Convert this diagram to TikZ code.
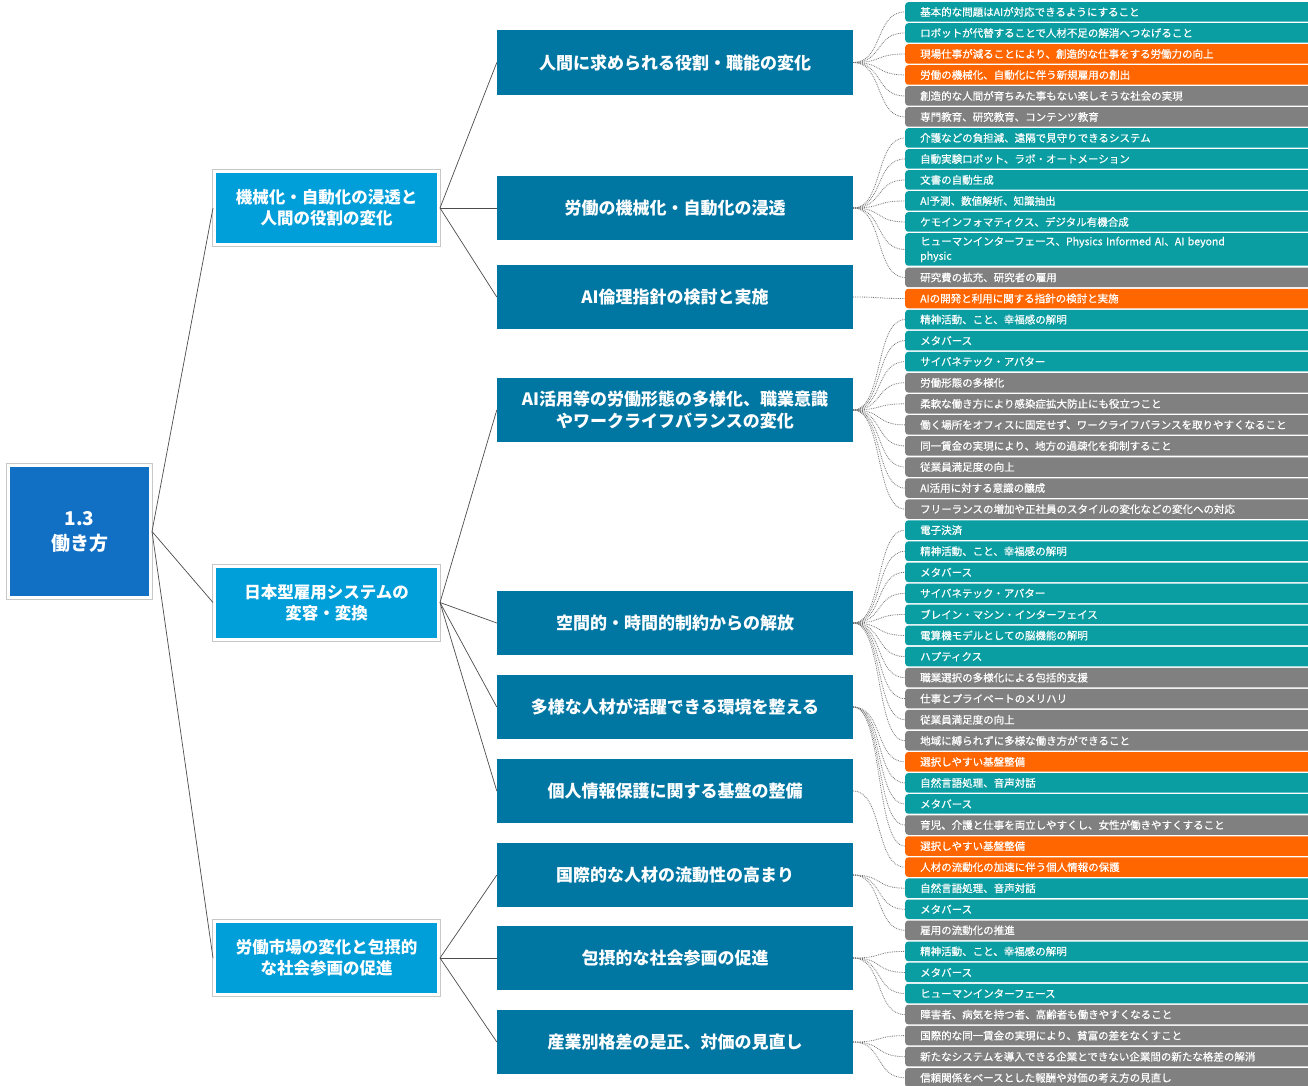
\documentclass[tikz,border=0pt]{standalone}
\usepackage{fontspec}
\setmainfont{Noto Sans CJK JP}
\newfontfamily\leaffont[FakeBold=0.6]{Noto Sans CJK JP}
\definecolor{rootc}{RGB}{18,112,196}
\definecolor{lonec}{RGB}{0,159,218}
\definecolor{midc}{RGB}{0,119,163}
\definecolor{tealc}{RGB}{10,158,163}
\definecolor{orangec}{RGB}{255,102,0}
\definecolor{grayc}{RGB}{128,128,128}
\newcommand\leafnode[4][]{%
  \pgfmathsetmacro\leaftop{#2<13 ? 2+21*(#2-1) : 267.5+21.06*(#2-13)}%
  \node[leaf, fill=#3, #1] (l#2) at (905,\leaftop) {#4};}
\begin{document}
\begin{tikzpicture}[x=1pt,y=-1pt,
  framed/.style={draw=white, line width=3pt, preaction={draw=black!22, line width=5pt},
    text=white, align=center, inner sep=0pt},
  rootbox/.style={framed, fill=rootc, minimum width=142pt, minimum height=132pt,
    font=\fontsize{19}{25}\selectfont\bfseries},
  lonebox/.style={framed, fill=lonec, minimum width=224pt, minimum height=73pt,
    font=\fontsize{16.5}{21}\selectfont\bfseries},
  midbox/.style={fill=midc, text=white, align=center, inner sep=0pt,
    minimum width=356pt, minimum height=64.5pt,
    font=\fontsize{17}{22}\selectfont\bfseries},
  leaf/.style={anchor=north west, text=white, font=\leaffont\fontsize{10.5}{13}\selectfont,
    text width=395pt, inner xsep=15pt, inner ysep=0pt, minimum height=19.5pt,
    rounded corners=3pt, align=left},
  trunk/.style={draw=black!70, line width=0.7pt},
  leafline/.style={densely dotted, draw=black!55, line width=0.8pt}]
\useasboundingbox[fill=white] (0,0) rectangle (1308,1085);

% root and first level
\node[rootbox] (root) at (79.5,531.5) {1.3\\働き方};
\node[lonebox] (a) at (326.5,208) {機械化・自動化の浸透と\\人間の役割の変化};
\node[lonebox] (b) at (326.5,602.5) {日本型雇用システムの\\変容・変換};
\node[lonebox] (c) at (326.5,958) {労働市場の変化と包摂的\\な社会参画の促進};

% second level
\node[midbox] (m1) at (675,62.5) {人間に求められる役割・職能の変化};
\node[midbox] (m2) at (675,208) {労働の機械化・自動化の浸透};
\node[midbox] (m3) at (675,297) {AI倫理指針の検討と実施};
\node[midbox] (m4) at (675,410) {AI活用等の労働形態の多様化、職業意識\\やワークライフバランスの変化};
\node[midbox] (m5) at (675,623) {空間的・時間的制約からの解放};
\node[midbox] (m6) at (675,707) {多様な人材が活躍できる環境を整える};
\node[midbox] (m7) at (675,791) {個人情報保護に関する基盤の整備};
\node[midbox] (m8) at (675,875) {国際的な人材の流動性の高まり};
\node[midbox] (m9) at (675,958) {包摂的な社会参画の促進};
\node[midbox] (m10) at (675,1042) {産業別格差の是正、対価の見直し};

% leaves
\leafnode{1}{tealc}{基本的な問題はAIが対応できるようにすること}
\leafnode{2}{tealc}{ロボットが代替することで人材不足の解消へつなげること}
\leafnode{3}{orangec}{現場仕事が減ることにより、創造的な仕事をする労働力の向上}
\leafnode{4}{orangec}{労働の機械化、自動化に伴う新規雇用の創出}
\leafnode{5}{grayc}{創造的な人間が育ちみた事もない楽しそうな社会の実現}
\leafnode{6}{grayc}{専門教育、研究教育、コンテンツ教育}
\leafnode{7}{tealc}{介護などの負担減、遠隔で見守りできるシステム}
\leafnode{8}{tealc}{自動実験ロボット、ラボ・オートメーション}
\leafnode{9}{tealc}{文書の自動生成}
\leafnode{10}{tealc}{AI予測、数値解析、知識抽出}
\leafnode{11}{tealc}{ケモインフォマティクス、デジタル有機合成}
\leafnode[minimum height=32.5pt, font=\leaffont\fontsize{10.5}{14.5}\selectfont]{12}{tealc}{ヒューマンインターフェース、Physics Informed AI、AI beyond\\physic}
\leafnode{13}{grayc}{研究費の拡充、研究者の雇用}
\leafnode{14}{orangec}{AIの開発と利用に関する指針の検討と実施}
\leafnode{15}{tealc}{精神活動、こと、幸福感の解明}
\leafnode{16}{tealc}{メタバース}
\leafnode{17}{tealc}{サイバネテック・アバター}
\leafnode{18}{grayc}{労働形態の多様化}
\leafnode{19}{grayc}{柔軟な働き方により感染症拡大防止にも役立つこと}
\leafnode{20}{grayc}{働く場所をオフィスに固定せず、ワークライフバランスを取りやすくなること}
\leafnode{21}{grayc}{同一賃金の実現により、地方の過疎化を抑制すること}
\leafnode{22}{grayc}{従業員満足度の向上}
\leafnode{23}{grayc}{AI活用に対する意識の醸成}
\leafnode{24}{grayc}{フリーランスの増加や正社員のスタイルの変化などの変化への対応}
\leafnode{25}{tealc}{電子決済}
\leafnode{26}{tealc}{精神活動、こと、幸福感の解明}
\leafnode{27}{tealc}{メタバース}
\leafnode{28}{tealc}{サイバネテック・アバター}
\leafnode{29}{tealc}{ブレイン・マシン・インターフェイス}
\leafnode{30}{tealc}{電算機モデルとしての脳機能の解明}
\leafnode{31}{tealc}{ハプティクス}
\leafnode{32}{grayc}{職業選択の多様化による包括的支援}
\leafnode{33}{grayc}{仕事とプライベートのメリハリ}
\leafnode{34}{grayc}{従業員満足度の向上}
\leafnode{35}{grayc}{地域に縛られずに多様な働き方ができること}
\leafnode{36}{orangec}{選択しやすい基盤整備}
\leafnode{37}{tealc}{自然言語処理、音声対話}
\leafnode{38}{tealc}{メタバース}
\leafnode{39}{grayc}{育児、介護と仕事を両立しやすくし、女性が働きやすくすること}
\leafnode{40}{orangec}{選択しやすい基盤整備}
\leafnode{41}{orangec}{人材の流動化の加速に伴う個人情報の保護}
\leafnode{42}{tealc}{自然言語処理、音声対話}
\leafnode{43}{tealc}{メタバース}
\leafnode{44}{grayc}{雇用の流動化の推進}
\leafnode{45}{tealc}{精神活動、こと、幸福感の解明}
\leafnode{46}{tealc}{メタバース}
\leafnode{47}{tealc}{ヒューマンインターフェース}
\leafnode{48}{grayc}{障害者、病気を持つ者、高齢者も働きやすくなること}
\leafnode{49}{grayc}{国際的な同一賃金の実現により、貧富の差をなくすこと}
\leafnode{50}{grayc}{新たなシステムを導入できる企業とできない企業間の新たな格差の解消}
\leafnode{51}{grayc}{信頼関係をベースとした報酬や対価の考え方の見直し}

% trunk connectors
\draw[trunk] (root.east) -- (a.west);
\draw[trunk] (root.east) -- (b.west);
\draw[trunk] (root.east) -- (c.west);
\foreach \p/\q in {a/m1,a/m2,a/m3,b/m4,b/m5,b/m6,b/m7,c/m8,c/m9,c/m10}
  \draw[trunk] (\p.east) -- (\q.west);

% leaf connectors
\foreach \m/\s/\e in {1/1/6,2/7/13,3/14/14,4/15/24,5/25/35,6/36/40,7/41/41,8/42/44,9/45/48,10/49/51}
  \foreach \k in {\s,...,\e}
    \draw[leafline] (m\m.east) .. controls +(30,0) and +(-30,0) .. (l\k.west);
\end{tikzpicture}
\end{document}
